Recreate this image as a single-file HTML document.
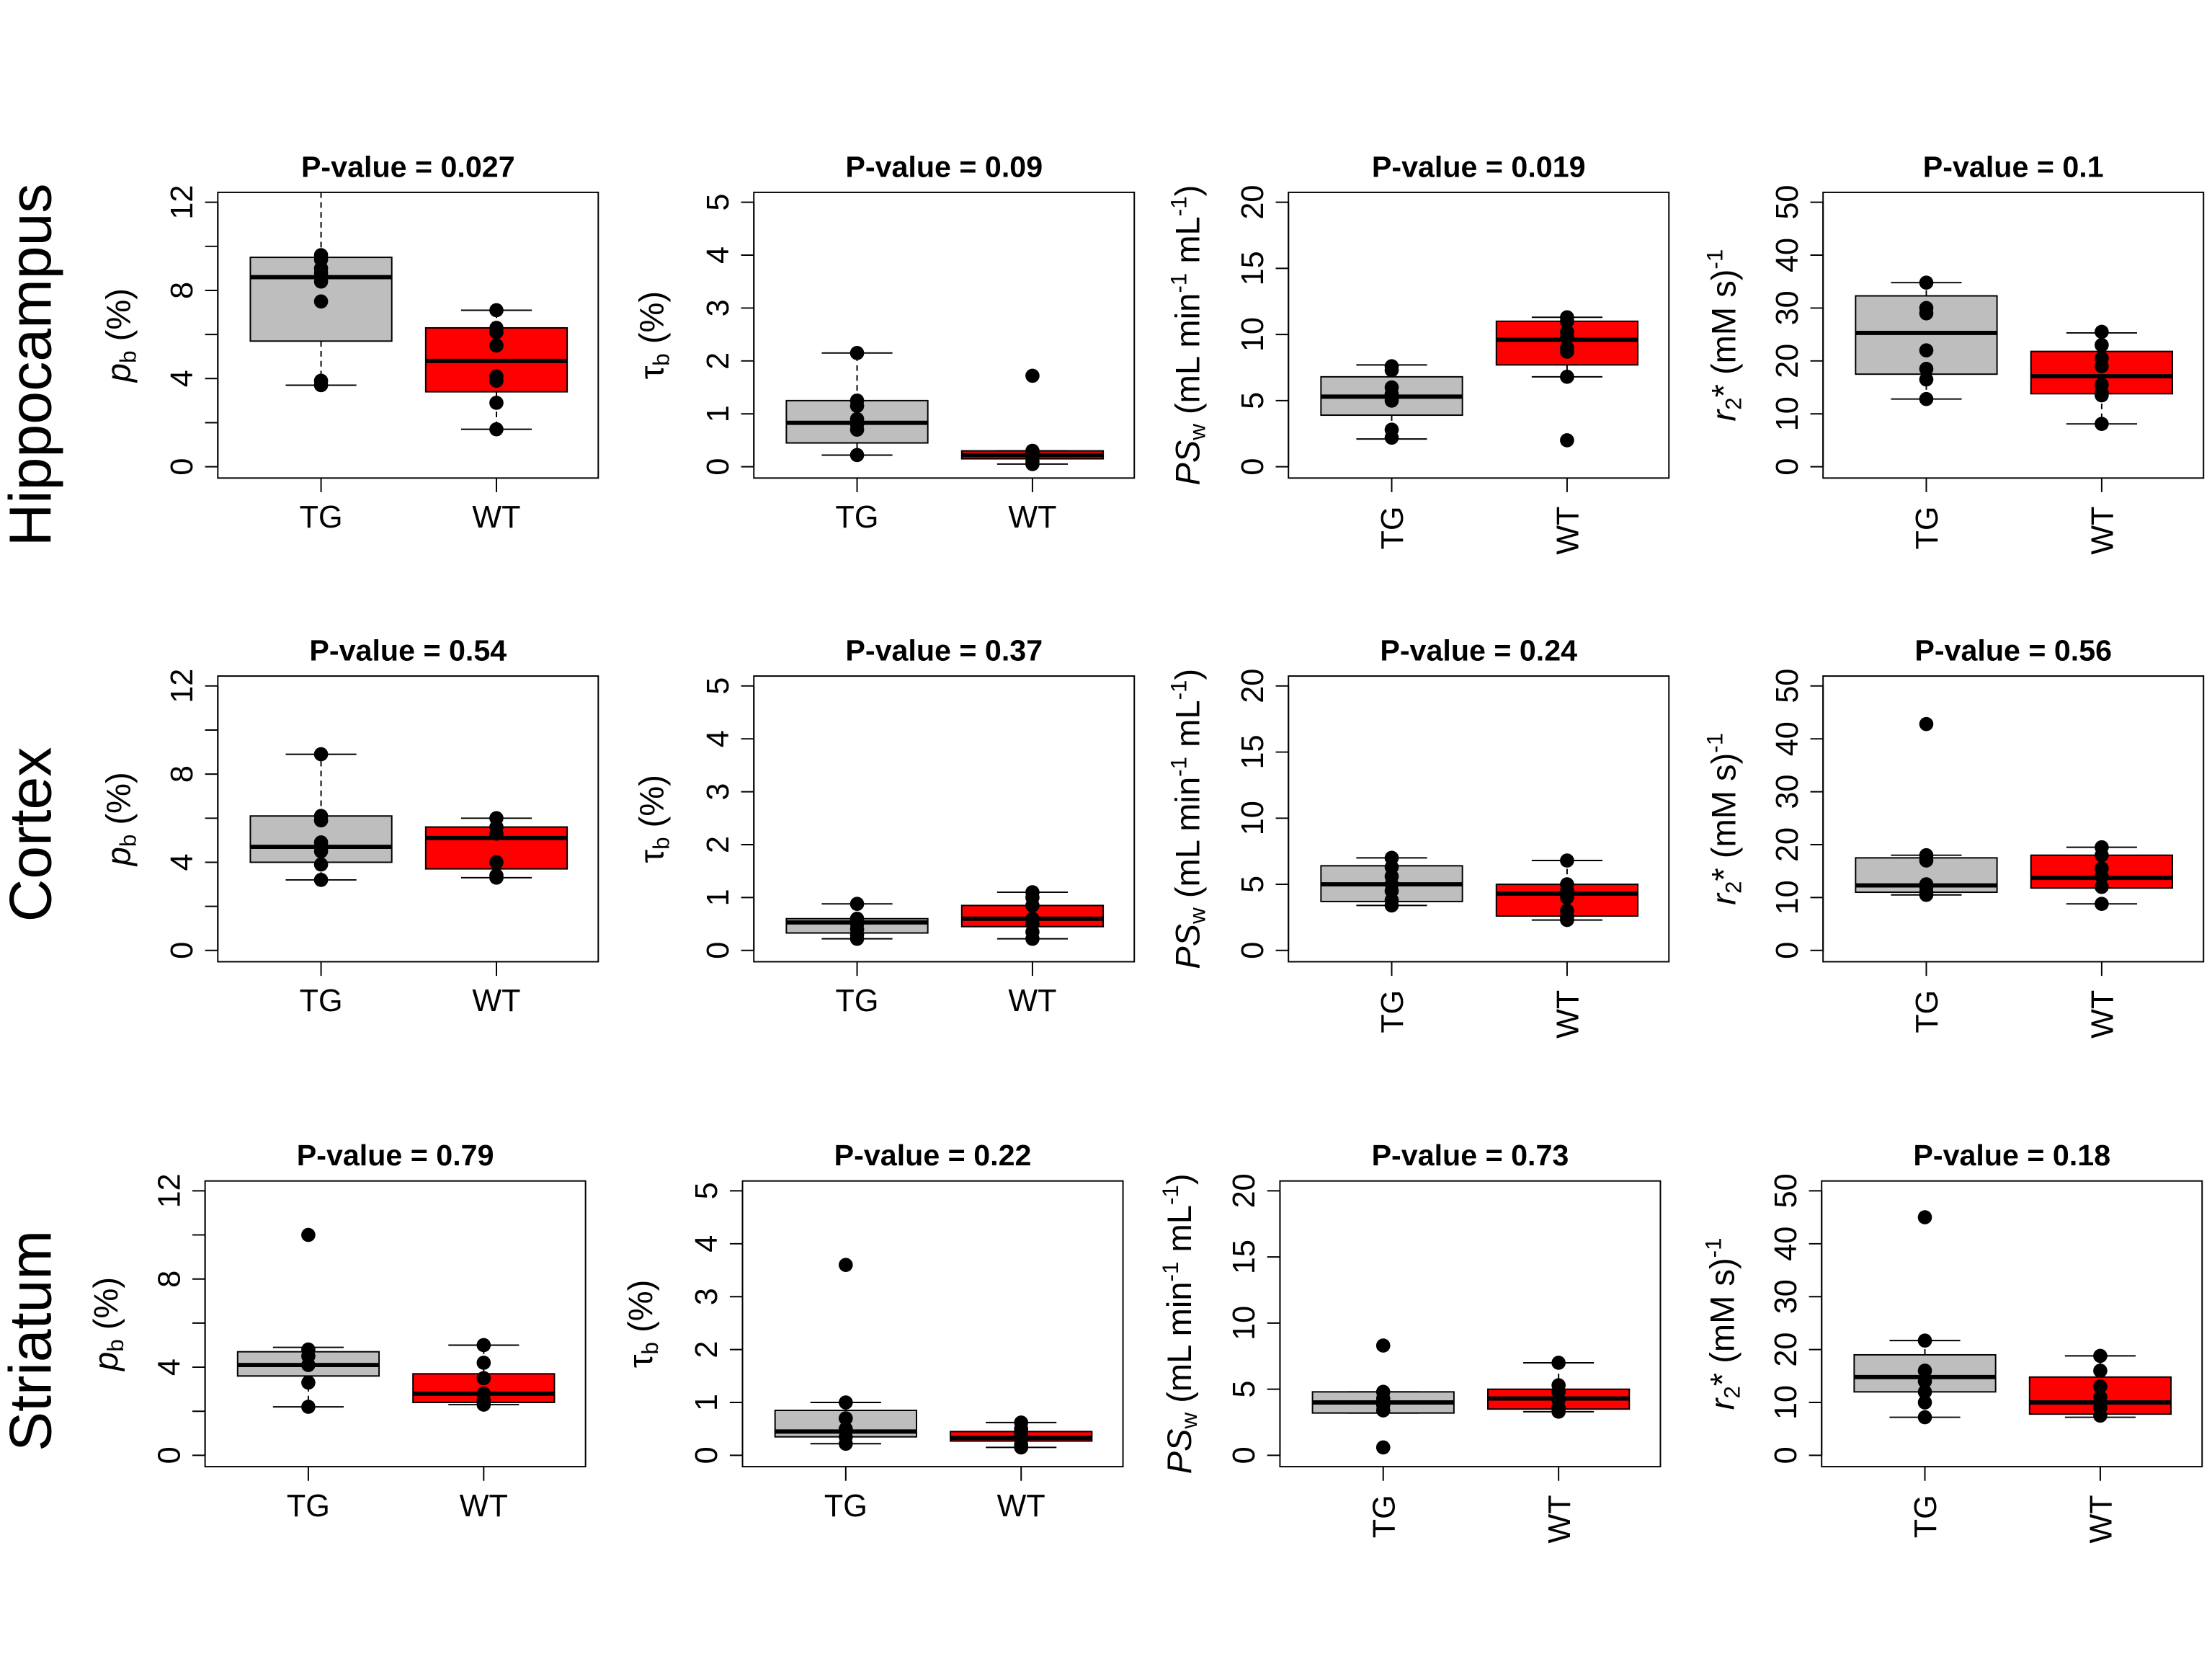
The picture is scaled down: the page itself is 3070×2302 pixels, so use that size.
<!DOCTYPE html>
<html><head><meta charset="utf-8"><style>
html,body{margin:0;padding:0;background:#fff;}
svg{display:block;}
text{font-family:"Liberation Sans",sans-serif;fill:#000;}
</style></head>
<body>
<svg id="fig" xmlns="http://www.w3.org/2000/svg" width="3070" height="2302" viewBox="0 0 1564 1173" preserveAspectRatio="none"></svg>
<script>
// ---- data ----
const groups = ["TG","WT"];
const regions = ["Hippocampus","Cortex","Striatum"];
const measures = ["pb","tau","ps","r2"];
const axisMax = [12,5,20,50];
const tickStep = [2,1,5,10];
const labelStep = [4,1,5,10];
const pValues = [["0.027","0.09","0.019","0.1"],["0.54","0.37","0.24","0.56"],["0.79","0.22","0.73","0.18"]];
// box stats: [whiskerLo, q1, median, q3, whiskerHi] for TG, WT
const hipStats = [
 [[3.7,5.7,8.6,9.5,13],[1.7,3.4,4.8,6.3,7.1]],
 [[0.22,0.45,0.83,1.25,2.15],[0.05,0.15,0.22,0.3,0.3]],
 [[2.1,3.9,5.3,6.8,7.7],[6.8,7.7,9.6,11.0,11.3]],
 [[12.8,17.5,25.3,32.3,34.8],[8.1,13.8,17.1,21.8,25.3]]];
const ctxStats = [
 [[3.2,4.0,4.7,6.1,8.9],[3.3,3.7,5.1,5.6,6.0]],
 [[0.22,0.33,0.53,0.6,0.88],[0.22,0.45,0.6,0.85,1.1]],
 [[3.4,3.7,5.0,6.4,7.0],[2.3,2.6,4.3,5.0,6.8]],
 [[10.5,11,12.3,17.5,18],[8.8,11.8,13.7,18,19.5]]];
const strStats = [
 [[2.2,3.6,4.1,4.7,4.9],[2.3,2.4,2.8,3.7,5.0]],
 [[0.22,0.35,0.45,0.85,1.0],[0.15,0.27,0.33,0.45,0.62]],
 [[3.2,3.2,4.0,4.8,4.8],[3.3,3.5,4.3,5.0,7.0]],
 [[7.2,12,14.8,19,21.7],[7.2,7.8,10,14.8,18.8]]];
// individual points for TG, WT
const hipPoints = [
 [[9.6,9.4,9.0,8.8,8.4,7.5,3.9,3.7],[7.1,6.3,6.1,5.5,4.1,3.9,2.9,1.7]],
 [[2.15,1.25,1.15,0.9,0.8,0.7,0.22],[1.72,0.3,0.25,0.2,0.1,0.05]],
 [[7.6,7.3,6.0,5.5,5.0,2.8,2.2],[11.3,11.0,10.2,9.8,9.0,8.7,6.8,2.0]],
 [[34.8,30,29,22,18.5,16.5,12.8],[25.5,23,20.5,19,15.5,14,13.5,8.1]]];
const ctxPoints = [
 [[8.9,6.1,5.9,4.9,4.5,3.9,3.2],[6.0,5.6,5.3,4.0,3.4,3.3]],
 [[0.88,0.6,0.5,0.4,0.3,0.22],[1.1,1.0,0.85,0.6,0.5,0.35,0.22]],
 [[7.0,6.3,5.6,5.0,4.5,3.8,3.4],[6.8,5.0,4.5,4.0,3.0,2.5,2.3]],
 [[42.8,18,17,12.5,12,11,10.5],[19.5,18,15.5,14,12,8.8]]];
const strPoints = [
 [[10.0,4.8,4.5,4.1,3.3,2.2],[5.0,4.2,3.5,2.8,2.5,2.3]],
 [[3.6,1.0,0.7,0.5,0.35,0.22],[0.62,0.5,0.4,0.3,0.2,0.15]],
 [[8.3,4.8,4.3,3.8,3.4,0.6],[7.0,5.3,4.8,4.2,3.6,3.3]],
 [[45,21.7,16,14,12,10,7.2],[18.8,16,13,11,9,7.5]]];
const allStats = [hipStats, ctxStats, strStats];
const allPoints = [hipPoints, ctxPoints, strPoints];

// ---- layout ----
const rowTops = [136,478,835];
const colLefts = [[154,533,911,1289],[154,533,911,1289],[145,525,905,1288]];
const boxW = 269, boxH = 202;
const groupOffsets = [73,197];
const rowLabelY = [258,590,948];
const ytitleX = [92,469,848,1227];

const NS = "http://www.w3.org/2000/svg";
const svg = document.getElementById('fig');
function mk(tag, attrs, parent){
  const e = document.createElementNS(NS, tag);
  for (const k in attrs) e.setAttribute(k, attrs[k]);
  (parent||svg).appendChild(e);
  return e;
}
function yScale(top, c){ return v => top + 194 - v / axisMax[c] * 187; }

const ytitles = [
  [["p","italic",""],["b","","sub"],[" (%)","",""]],
  [["τ","",""],["b","","sub"],[" (%)","",""]],
  [["PS","italic",""],["w","","sub"],[" (mL min","",""],["-1","","super"],[" mL","",""],["-1","","super"],[")","",""]],
  [["r","italic",""],["2","","sub"],["* (mM s)","",""],["-1","","super"]]
];

regions.forEach((reg, r) => {
  const rl = mk('text',{x:0,y:0,'font-size':42,'text-anchor':'middle',transform:`translate(36,${rowLabelY[r]}) rotate(-90)`});
  
  
  rl.textContent = reg;
  const top = rowTops[r];
  measures.forEach((m, c) => {
    const left = colLefts[r][c];
    const y = yScale(top, c);
    const g = mk('g',{});
    
    
    const t = mk('text',{x:left+boxW/2,y:top-11,'font-size':21,'font-weight':'bold','text-anchor':'middle'},g);
    
    
    t.textContent = 'P-value = ' + pValues[r][c];
    const ya = mk('g',{},g);
    
    
    mk('line',{x1:left,x2:left,y1:y(0),y2:y(axisMax[c]),stroke:'#000','stroke-width':1},ya);
    for (let v = 0; v <= axisMax[c] + 1e-9; v += tickStep[c]) {
      mk('line',{x1:left-9,x2:left,y1:y(v),y2:y(v),stroke:'#000','stroke-width':1},ya);
      if (Math.abs(v / labelStep[c] - Math.round(v / labelStep[c])) < 1e-9) {
        const tl = mk('text',{x:0,y:0,'font-size':22,'text-anchor':'middle',transform:`translate(${left-18},${y(v)}) rotate(-90)`},ya);
        
        
        tl.textContent = v;
      }
    }
    const yt = mk('text',{x:0,y:0,'font-size':24,'text-anchor':'middle',transform:`translate(${ytitleX[c] + (left - colLefts[0][c])},${top+101}) rotate(-90)`},g);
    
    
    ytitles[c].forEach(p => {
      const s = mk('tspan',{},yt);
      if (p[1]) s.setAttribute('font-style', p[1]);
      if (p[2] === 'sub') { s.setAttribute('baseline-shift', '-4'); s.setAttribute('font-size', 16); }
      if (p[2] === 'super') { s.setAttribute('baseline-shift', '9'); s.setAttribute('font-size', 16); }
      s.textContent = p[0];
    });
    const fr = mk('rect',{x:left,y:top,width:boxW,height:boxH,fill:'none',stroke:'#000','stroke-width':1},g);
    
    
    groups.forEach((gn, k) => {
      const cx = left + groupOffsets[k];
      const st = allStats[r][c][k];
      const bg = mk('g',{},g);
      
      
      const yLo = Math.min(y(st[0]), top+boxH), yHi = Math.max(y(st[4]), top);
      mk('line',{x1:cx,x2:cx,y1:y(st[3]),y2:yHi,stroke:'#000','stroke-dasharray':'4,3'},bg);
      mk('line',{x1:cx,x2:cx,y1:y(st[1]),y2:yLo,stroke:'#000','stroke-dasharray':'4,3'},bg);
      if (y(st[4]) >= top) mk('line',{x1:cx-25,x2:cx+25,y1:y(st[4]),y2:y(st[4]),stroke:'#000'},bg);
      mk('line',{x1:cx-25,x2:cx+25,y1:y(st[0]),y2:y(st[0]),stroke:'#000'},bg);
      mk('rect',{x:cx-50,y:y(st[3]),width:100,height:y(st[1])-y(st[3]),fill:k?'#ff0000':'#bebebe',stroke:'#000','stroke-width':1},bg);
      mk('line',{x1:cx-50,x2:cx+50,y1:y(st[2]),y2:y(st[2]),stroke:'#000','stroke-width':3},bg);
      allPoints[r][c][k].forEach(v => {
        const pt = mk('circle',{cx:cx,cy:y(v),r:5,fill:'#000'},bg);
        
        
      });
      mk('line',{x1:cx,x2:cx,y1:top+boxH,y2:top+boxH+10,stroke:'#000'},g);
      let xl;
      if (c < 2) xl = mk('text',{x:cx,y:top+boxH+35,'font-size':22,'text-anchor':'middle'},g);
      else xl = mk('text',{x:0,y:0,'font-size':22,'text-anchor':'end',transform:`translate(${cx+8},${top+boxH+20}) rotate(-90)`},g);
      
      
      xl.textContent = gn;
    });
  });
});
</script>
</body></html>
